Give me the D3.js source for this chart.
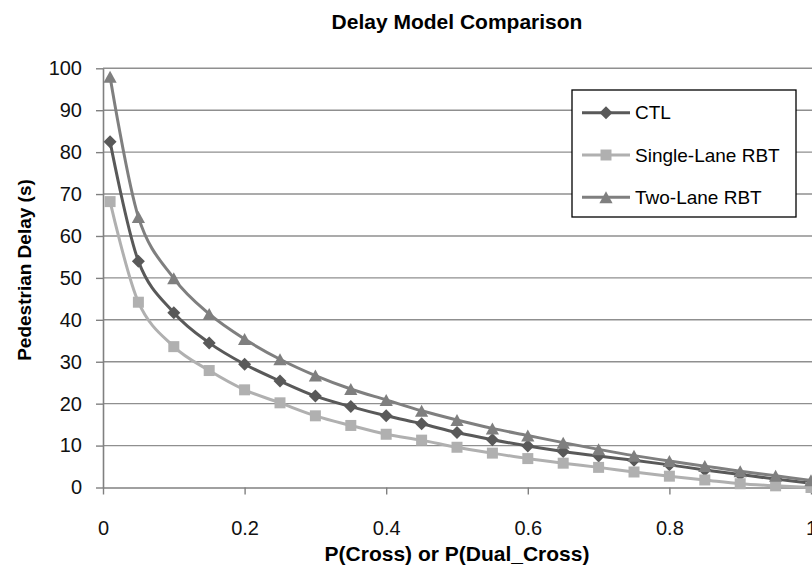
<!DOCTYPE html>
<html>
<head>
<meta charset="utf-8">
<script src="https://cdn.jsdelivr.net/npm/d3@7"></script>
<style>
  body { margin: 0; background: #fff; }
  svg { display: block; font-family: "Liberation Sans", Arial, sans-serif; }
</style>
</head>
<body>
<svg></svg>
<script>
let width = 812
let height = 566

// data
let pValues = [0.01, 0.05, 0.1, 0.15, 0.2, 0.25, 0.3, 0.35, 0.4, 0.45, 0.5,
    0.55, 0.6, 0.65, 0.7, 0.75, 0.8, 0.85, 0.9, 0.95, 1.0]
let ctlDelay = [82.5, 54.0, 41.7, 34.5, 29.4, 25.4, 21.8, 19.3, 17.1, 15.2, 13.1,
    11.4, 9.9, 8.6, 7.5, 6.5, 5.4, 4.2, 3.1, 2.0, 1.0]
let singleLaneDelay = [68.2, 44.2, 33.6, 27.9, 23.3, 20.2, 17.1, 14.8, 12.7, 11.3, 9.6,
    8.2, 6.9, 5.8, 4.8, 3.7, 2.7, 1.8, 0.9, 0.4, 0.0]
let twoLaneDelay = [98.0, 64.5, 49.9, 41.4, 35.4, 30.6, 26.7, 23.5, 20.9, 18.3, 16.1,
    14.1, 12.4, 10.7, 9.1, 7.6, 6.3, 5.1, 3.9, 2.8, 1.7]
let seriesNames = ['CTL', 'Single-Lane RBT', 'Two-Lane RBT']
let xTicks = [0, 0.2, 0.4, 0.6, 0.8, 1]
let yTicks = [0, 10, 20, 30, 40, 50, 60, 70, 80, 90, 100]

let diamond = {
    draw(c, s) {
        let r = Math.sqrt(s) / 2
        c.moveTo(0, -r); c.lineTo(r, 0); c.lineTo(0, r); c.lineTo(-r, 0); c.closePath()
    }
}
let triangle = {
    draw(c, s) {
        let h = Math.sqrt(s) / 2
        c.moveTo(0, -h); c.lineTo(h * 1.1, h); c.lineTo(-h * 1.1, h); c.closePath()
    }
}
let series = [
    { name: seriesNames[0], values: ctlDelay, color: '#595959', symbol: d3.symbol(diamond, 169) },
    { name: seriesNames[1], values: singleLaneDelay, color: '#b0b0b0', symbol: d3.symbol(d3.symbolSquare, 121) },
    { name: seriesNames[2], values: twoLaneDelay, color: '#7f7f7f', symbol: d3.symbol(triangle, 144) }
]

let margin = { left: 103, right: 1, top: 68.3, bottom: 78.5 }
let svg = d3.select('svg')
    .attr('width', width)
    .attr('height', height)

let x = d3.scaleLinear().domain([0, 1]).range([margin.left, width - margin.right])
let y = d3.scaleLinear().domain([0, 100]).range([height - margin.bottom, margin.top])

// gridlines
svg.append('g').selectAll('line')
    .data(yTicks.filter(d => d > 0)).enter()
    .append('line')
    .attr('x1', margin.left).attr('x2', width)
    .attr('y1', d => y(d)).attr('y2', d => y(d))
    .style('stroke', '#8f8f8f').style('stroke-width', 1.4)

let yAxis = svg.append('g')
    .attr('transform', `translate(${margin.left},0)`)
    .call(d3.axisLeft(y).tickValues(yTicks).tickSizeInner(7).tickSizeOuter(0).tickPadding(14))
let xAxis = svg.append('g')
    .attr('transform', `translate(0,${y(0)})`)
    .call(d3.axisBottom(x).tickValues(xTicks).tickSizeInner(7).tickSizeOuter(0)
        .tickPadding(26).tickFormat(d3.format('')))
for (let axis of [xAxis, yAxis]) {
    axis.select('.domain').style('stroke', '#808080').style('stroke-width', 1.6)
    axis.selectAll('.tick line').style('stroke', '#808080').style('stroke-width', 1.4)
    axis.selectAll('.tick text')
        .style('font-size', '20px').style('fill', '#111')
        .style('font-family', '"Liberation Sans", Arial, sans-serif')
}

// series
let line = d3.line()
    .x((d, i) => x(pValues[i]))
    .y(d => y(d))
    .curve(d3.curveCardinal.tension(0))

series.forEach(s => {
    let g = svg.append('g')
    g.append('path')
        .attr('d', line(s.values))
        .style('fill', 'none')
        .style('stroke', s.color)
        .style('stroke-width', 3)
    g.selectAll('path.marker')
        .data(s.values).enter()
        .append('path')
        .attr('class', 'marker')
        .attr('transform', (d, i) => `translate(${x(pValues[i])},${y(d)})`)
        .attr('d', s.symbol)
        .style('fill', s.color)
})

// title and axis titles
svg.append('text')
    .attr('x', 457).attr('y', 29)
    .attr('text-anchor', 'middle')
    .style('font-weight', 'bold').style('font-size', '21px')
    .text('Delay Model Comparison')
svg.append('text')
    .attr('x', 457).attr('y', 561)
    .attr('text-anchor', 'middle')
    .style('font-weight', 'bold').style('font-size', '21px')
    .text('P(Cross) or P(Dual_Cross)')
svg.append('text')
    .attr('transform', 'translate(31,270) rotate(-90)')
    .attr('text-anchor', 'middle')
    .style('font-weight', 'bold').style('font-size', '19px')
    .text('Pedestrian Delay (s)')

// legend
let legend = svg.append('g')
legend.append('rect')
    .attr('x', 572).attr('y', 90).attr('width', 224).attr('height', 127)
    .style('fill', '#fff').style('stroke', '#000').style('stroke-width', 1.3)
let rows = legend.selectAll('g.row')
    .data(series).enter()
    .append('g')
    .attr('class', 'row')
    .attr('transform', (d, i) => `translate(582,${112.7 + i * 42.3})`)
rows.append('line')
    .attr('x1', 0).attr('x2', 48)
    .style('stroke', d => d.color).style('stroke-width', 3)
rows.append('path')
    .attr('transform', 'translate(24,0)')
    .attr('d', d => d.symbol())
    .style('fill', d => d.color)
rows.append('text')
    .attr('x', 53).attr('dy', '0.35em')
    .style('font-size', '19px')
    .text(d => d.name)
</script>
</body>
</html>
